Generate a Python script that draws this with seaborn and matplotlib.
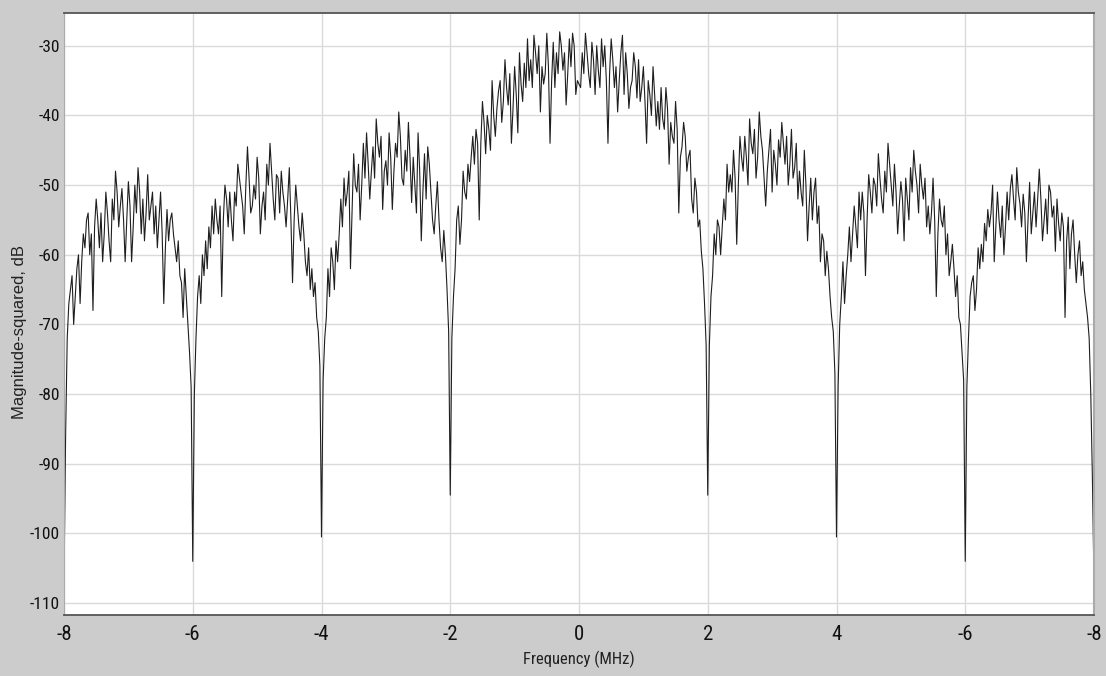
import numpy as np
import pandas as pd
import matplotlib
matplotlib.use("Agg")
import matplotlib.pyplot as plt
from matplotlib import font_manager
import seaborn as sns

# ---------------- data ----------------
# frequency grid: -8 .. 8 MHz, 0.025 MHz sample spacing (641 samples)
freq_mhz = np.round(np.linspace(-8.0, 8.0, 641), 4)

# magnitude-squared in dB, one list per 2 MHz span (80 samples each, last span 81)
mag_m8_m6 = [-107, -86, -72, -67, -65, -63, -70, -66, -62, -60,
             -67, -61, -57, -59, -55, -54, -60, -57, -68, -56,
             -52, -55, -59, -54, -61, -57, -51, -54, -58, -61,
             -52, -55, -48, -51, -56, -53, -50.5, -55, -61, -55,
             -49.5, -53, -61, -56, -50, -54, -47.5, -51, -57, -52,
             -58, -54, -48.5, -55, -53, -51, -57, -53, -59, -55,
             -51, -57, -67, -59, -53.5, -58, -55, -54, -57, -59,
             -61, -58, -63, -64, -69, -62, -66, -70, -74, -79]
mag_m6_m4 = [-104, -80, -72, -66, -63, -67, -60, -63, -58, -62,
             -56, -59, -53, -57, -52, -55, -57, -53, -66, -55,
             -50, -52, -56, -51, -55, -58, -51, -53, -47, -49,
             -51, -53, -57, -50, -44.5, -49, -54, -53, -50, -52,
             -46, -49, -57, -53, -51, -55, -47, -50, -44, -48,
             -52, -55, -48.5, -49, -54, -48, -51, -53, -56, -52,
             -47.5, -55, -64, -55, -50, -53, -56, -58, -54, -57,
             -61, -63, -59, -65, -62, -66, -64, -69, -71, -76]
mag_m4_m2 = [-100.5, -78, -72, -69, -62, -66, -59, -61, -65, -58,
             -61, -57, -52, -56, -49, -53, -51, -48, -62, -54,
             -45.5, -50, -51, -47, -55, -50, -44, -49, -42.5, -47,
             -52, -48, -44.5, -49, -40.5, -44, -46, -43, -53.5, -48,
             -46.5, -50, -42.5, -46, -53.5, -48, -44, -46, -39.5, -43,
             -49, -50, -45, -48, -41, -46, -52.5, -46, -50, -54,
             -42.5, -48, -58, -51, -45.5, -52, -44.5, -47, -51, -55,
             -57, -53, -49.5, -55, -59, -61, -56.5, -60, -65, -71]
mag_m2_0 = [-94.5, -72, -66, -62, -55, -53, -58.5, -55, -48, -51,
            -52, -47, -49.5, -46, -43, -47, -42, -44, -55, -44,
            -38, -41, -45.5, -40, -42, -45, -35, -40, -43, -39,
            -36.5, -35, -41, -38, -32, -36, -38.5, -34, -44, -39,
            -33, -37, -42.5, -31, -35.5, -38, -32.5, -36, -29, -35,
            -32, -36, -28.5, -31, -34, -30, -39.5, -33, -35.5, -34,
            -28.2, -33, -44, -35, -29.5, -36, -31, -34, -28, -30,
            -33.5, -31, -38.5, -34, -29, -33, -28.2, -30, -37, -35]
mag_0_2 = [-35.5, -36, -31, -34, -28.2, -31, -34, -36, -29.5, -32,
           -37, -30, -33.5, -36, -29, -33, -30, -35, -44, -34,
           -29, -32, -36, -33, -39.5, -35, -31, -28.5, -37, -31,
           -34, -39, -36, -35, -31, -33, -37.5, -32, -38, -36,
           -33, -38, -44, -35, -37, -40, -33, -37, -41.5, -38,
           -42, -36, -40.5, -42, -36, -39, -47, -41, -43, -44,
           -38, -42, -54, -46, -44.5, -41, -43, -48, -46, -45,
           -52, -54, -49, -51, -56, -55, -59.5, -62, -67, -73]
mag_2_4 = [-94.5, -73, -66, -63, -57, -60, -55, -56, -60, -56,
           -52, -55, -47, -51, -48.5, -51, -45, -49, -58.5, -50,
           -43, -46, -48, -43, -46, -50, -40.5, -44, -45.5, -42,
           -49, -46, -39.5, -43, -45, -49, -53, -48, -45, -42,
           -51, -45, -47, -50, -43.5, -46, -41, -44, -47, -43,
           -50, -47, -42, -49, -47.5, -44, -52, -48, -51, -53,
           -45, -50, -58, -53, -49, -55, -51, -49, -55.5, -53,
           -61, -57, -58, -63, -59.5, -62, -66, -69, -71, -77]
mag_4_6 = [-100.5, -79, -70, -66, -61, -67, -63, -60, -56, -61,
           -57, -53, -56, -59, -51, -55, -51, -54, -63, -55,
           -48.5, -51, -54, -49, -50, -53, -45.5, -49, -52, -54,
           -48, -51, -44, -47, -50, -53, -47, -51, -57, -53,
           -49.5, -52, -58, -49, -52, -55, -47.5, -51, -45, -48,
           -50, -54, -47, -50, -52, -49, -56, -53, -57, -54,
           -49, -55, -66, -57, -52, -55, -56, -53, -60, -57,
           -63, -61, -58.5, -62, -66, -63, -69, -70, -74, -78]
mag_6_8 = [-104, -79, -72, -66, -64, -63, -68, -65, -59, -62,
           -58.5, -61, -55.5, -58, -53.5, -56, -54, -50, -61, -56,
           -51, -55, -57.5, -53, -60, -56, -51, -55, -50.5, -48.5,
           -52, -55, -47.5, -51, -52.7, -56, -51.3, -54, -61, -55,
           -49.6, -57, -54, -51, -56, -52, -47.7, -52, -58, -55,
           -52, -57, -50, -51, -54.6, -53, -59.5, -52, -55.5, -58,
           -54, -56, -69, -58, -54.6, -62, -57, -55, -60, -64,
           -60, -58, -63, -61, -65, -67, -69, -72, -80, -92,
           -107]

mag_db = (mag_m8_m6 + mag_m6_m4 + mag_m4_m2 + mag_m2_0 +
          mag_0_2 + mag_2_4 + mag_4_6 + mag_6_8)

x_ticks = [-8, -6, -4, -2, 0, 2, 4, 6, 8]
x_tick_labels = ["-8", "-6", "-4", "-2", "0", "2", "4", "-6", "-8"]
y_ticks = [-30, -40, -50, -60, -70, -80, -90, -100, -110]
y_tick_labels = ["-30", "-40", "-50", "-60", "-70", "-80", "-90", "-100", "-110"]

# ---------------- fonts ----------------
def pick(cands):
    for c in cands:
        try:
            font_manager.findfont(c, fallback_to_default=False)
            return c
        except Exception:
            pass
    return "DejaVu Sans"

narrow = pick(["Liberation Sans Narrow", "Roboto Condensed", "Liberation Sans"])
regular = pick(["Liberation Sans", "Arial", "DejaVu Sans"])

# ---------------- plot ----------------
sns.set_theme(style="whitegrid")
plt.rcParams["font.family"] = [regular, "DejaVu Sans"]

df = pd.DataFrame({"freq": freq_mhz, "mag": mag_db})

W, H = 1106, 676
fig = plt.figure(figsize=(W / 100, H / 100), dpi=100, facecolor="#cccccc")
ax = fig.add_axes([64 / W, 1 - 615 / H, (1094 - 64) / W, (615 - 13) / H])
ax.set_facecolor("white")

sns.lineplot(data=df, x="freq", y="mag", ax=ax, color="#1e1e1e",
             linewidth=0.8, estimator=None, sort=False)

ax.set_xlim(-8, 8)
ax.set_ylim(-111.7, -25.3)
ax.set_xticks(x_ticks)
ax.set_xticklabels(x_tick_labels, fontsize=15, family=narrow, color="#111111")
ax.set_yticks(y_ticks)
ax.set_yticklabels(y_tick_labels, fontsize=12.5, family=narrow, color="#111111")
ax.tick_params(axis="both", length=0)
ax.tick_params(axis="x", pad=7)
ax.tick_params(axis="y", pad=3)

ax.grid(True, color="#dadada", linewidth=1.0)
for side in ["top", "bottom"]:
    ax.spines[side].set_color("#555555")
    ax.spines[side].set_linewidth(1.3)
ax.spines["left"].set_color("#aaaaaa")
ax.spines["left"].set_linewidth(0.8)
ax.spines["right"].set_color("#aaaaaa")
ax.spines["right"].set_linewidth(1.5)

ax.set_xlabel("Frequency (MHz)", fontsize=12, family=narrow, color="#222222")
ax.xaxis.set_label_coords(0.5, -0.060)
ax.set_ylabel("Magnitude-squared, dB", fontsize=12, family=regular, color="#222222")
ax.yaxis.set_label_coords(-0.036, 0.47)

fig.savefig("out.png", dpi=100, facecolor=fig.get_facecolor())
